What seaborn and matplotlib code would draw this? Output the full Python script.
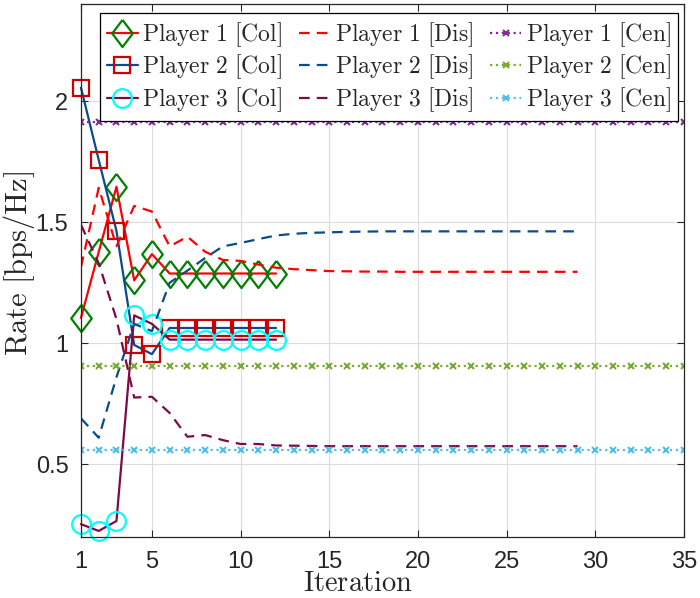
import numpy as np
import matplotlib
matplotlib.use("Agg")
import matplotlib.pyplot as plt
import seaborn as sns

# Iterations
it_col = list(range(1, 13))
it_dis = list(range(1, 30))
it_cen = list(range(1, 36))

# Collaborative (Col) rates
p1_col = [1.105, 1.377, 1.646, 1.26, 1.368, 1.288, 1.288, 1.288, 1.288, 1.288, 1.288, 1.288]
p2_col = [2.055, 1.757, 1.464, 0.993, 0.955, 1.063, 1.063, 1.063, 1.063, 1.063, 1.063, 1.063]
p3_col = [0.253, 0.225, 0.266, 1.115, 1.08, 1.015, 1.015, 1.015, 1.015, 1.015, 1.015, 1.015]

# Distributed (Dis) rates
p1_dis = [1.315, 1.642, 1.40, 1.567, 1.544, 1.40, 1.44, 1.378, 1.344, 1.34, 1.325, 1.312,
          1.306, 1.302, 1.298, 1.297, 1.296, 1.296, 1.295, 1.295, 1.295, 1.295, 1.295,
          1.295, 1.295, 1.295, 1.295, 1.295, 1.295]
p2_dis = [0.69, 0.61, 0.86, 1.08, 1.05, 1.25, 1.30, 1.352, 1.40, 1.414, 1.43, 1.445,
          1.452, 1.456, 1.458, 1.46, 1.461, 1.462, 1.462, 1.462, 1.462, 1.462, 1.462,
          1.462, 1.462, 1.462, 1.462, 1.462, 1.462]
p3_dis = [1.489, 1.33, 1.10, 0.776, 0.779, 0.712, 0.614, 0.621, 0.60, 0.584, 0.584, 0.578,
          0.577, 0.576, 0.575, 0.575, 0.575, 0.575, 0.575, 0.575, 0.575, 0.575, 0.575,
          0.575, 0.575, 0.575, 0.575, 0.575, 0.575]

# Centralized (Cen) rates
p1_cen = [1.912] * len(it_cen)
p2_cen = [0.905] * len(it_cen)
p3_cen = [0.559] * len(it_cen)

x_ticks = [1, 5, 10, 15, 20, 25, 30, 35]
y_ticks = [0.5, 1, 1.5, 2]
y_ticklabels = ["0.5", "1", "1.5", "2"]

sns.set_theme(style="ticks")
plt.rcParams["font.family"] = ["Liberation Sans", "DejaVu Sans"]
plt.rcParams["mathtext.fontset"] = "cm"

fig = plt.figure(figsize=(7, 5.98), dpi=100)
ax = fig.add_axes([0.1157, 0.102, 0.8613, 0.891])

blue = "#0a4b8c"
maroon = "#7d0a45"
dash = (0, (4.8, 3.2))
diamond = [(0, 1), (0.76, 0), (0, -1), (-0.76, 0), (0, 1)]

def lab(s):
    return r"$\mathrm{" + s.replace(" ", r"\ ") + "}$"

# Col
sns.lineplot(x=it_col, y=p1_col, ax=ax, color="#ff0000", lw=1.6, marker=diamond, ms=19.5,
             mfc="none", mec="#008000", mew=1.6, clip_on=False, label=lab("Player 1 [Col]"))
sns.lineplot(x=it_col, y=p2_col, ax=ax, color=blue, lw=1.6, marker="s", ms=12,
             mfc="none", mec="#cc0000", mew=1.6, clip_on=False, label=lab("Player 2 [Col]"))
sns.lineplot(x=it_col, y=p3_col, ax=ax, color=maroon, lw=1.6, marker="o", ms=13.5,
             mfc="none", mec="#00ffff", mew=1.6, clip_on=False, label=lab("Player 3 [Col]"))
# Dis
sns.lineplot(x=it_dis, y=p1_dis, ax=ax, color="#ff0000", lw=1.6, linestyle=dash,
             label=lab("Player 1 [Dis]"))
sns.lineplot(x=it_dis, y=p2_dis, ax=ax, color=blue, lw=1.6, linestyle=dash,
             label=lab("Player 2 [Dis]"))
sns.lineplot(x=it_dis, y=p3_dis, ax=ax, color=maroon, lw=1.6, linestyle=dash,
             label=lab("Player 3 [Dis]"))
# Cen
sns.lineplot(x=it_cen, y=p1_cen, ax=ax, color="#7e2f8e", lw=1.6, linestyle=":", marker="x",
             ms=4.5, mec="#7e2f8e", mew=1.5, label=lab("Player 1 [Cen]"))
sns.lineplot(x=it_cen, y=p2_cen, ax=ax, color="#77ac30", lw=1.6, linestyle=":", marker="x",
             ms=4.5, mec="#77ac30", mew=1.5, label=lab("Player 2 [Cen]"))
sns.lineplot(x=it_cen, y=p3_cen, ax=ax, color="#4dbeee", lw=1.6, linestyle=":", marker="x",
             ms=4.5, mec="#4dbeee", mew=1.5, label=lab("Player 3 [Cen]"))

ax.set_xlim(1, 35)
ax.set_ylim(0.2, 2.4)
ax.set_xticks(x_ticks)
ax.set_yticks(y_ticks)
ax.set_yticklabels(y_ticklabels)
ax.tick_params(direction="in", labelsize=17, length=5, width=0.8, colors="#262626",
               top=True, right=True)
ax.tick_params(axis="x", pad=10)
ax.tick_params(axis="y", pad=9)
ax.grid(True, color="#dcdcdc", lw=0.8)
ax.set_axisbelow(True)
for s in ax.spines.values():
    s.set_color("#262626")
    s.set_linewidth(0.9)

ax.set_xlabel(lab("Iteration"), fontsize=20.5)
ax.xaxis.set_label_coords(0.459, -0.064)
ax.set_ylabel(lab("Rate [bps/Hz]"), fontsize=22)
ax.yaxis.set_label_coords(-0.073, 0.514)

handles, labels = ax.get_legend_handles_labels()
leg = ax.legend(handles, labels, ncol=3, loc="upper left",
                bbox_to_anchor=(0.0315, 0.983, 0.9585, 0.0), mode="expand",
                fontsize=17, frameon=True, fancybox=False, edgecolor="black",
                framealpha=1, handlelength=1.3, handletextpad=0.2, columnspacing=0.5,
                labelspacing=0.15, borderpad=0.3, borderaxespad=0)
leg.get_frame().set_linewidth(0.9)

fig.savefig("out.png", dpi=100)
